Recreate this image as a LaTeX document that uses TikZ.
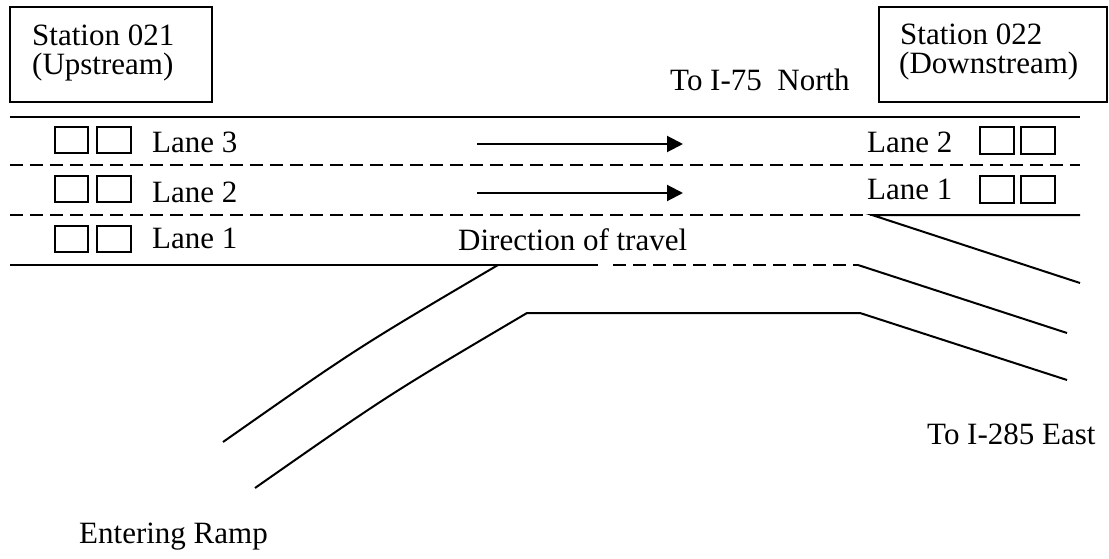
\documentclass[tikz,border=0pt]{standalone}
\usepackage{fontspec}
\setmainfont{Liberation Serif}
\usetikzlibrary{arrows.meta}
\tikzset{
  road/.style={line width=2pt},
  laneline/.style={line width=2pt, dash pattern=on 13pt off 7pt},
  stationbox/.style={draw, line width=2.5pt},
  detector/.style={draw, line width=2pt},
  label/.style={inner sep=0pt, anchor=base west, font=\fontsize{31}{28.5}\selectfont},
  travel/.style={line width=2pt, -{Triangle[length=16pt,width=16pt]}}
}
\begin{document}
\begin{tikzpicture}[x=1pt,y=-1pt]
\useasboundingbox (0,0) rectangle (1109,559);
% station boxes
\draw[stationbox] (10,7) rectangle (212,102);
\draw[stationbox] (879,7) rectangle (1107,102);
\node[label] (s21a) at (32,46) {Station 021};
\node[label] (s21b) at (32,75) {(Upstream)};
\node[label] (s22a) at (900,45) {Station 022};
\node[label] (s22b) at (899,74) {(Downstream)};
\node[label] (north) at (670,91) {To I-75~~North};
% lane lines
\coordinate (t0) at (10,117); \coordinate (t1) at (1080,117);
\draw[road] (t0) -- (t1);
\coordinate (d10) at (10,165); \coordinate (d11) at (1080,165);
\draw[laneline] (d10) -- (d11);
\coordinate (d20) at (10,215); \coordinate (d21) at (872,215);
\coordinate (d22) at (1080,215); \coordinate (d23) at (1080,283);
\draw[laneline] (d20) -- (d21);
\draw[road] (d22) -- (d21) -- (d23);
\coordinate (b0) at (10,265); \coordinate (b1) at (598,265);
\coordinate (b2) at (613,265); \coordinate (b3) at (858,265);
\coordinate (b4) at (1067,333);
\draw[road] (b0) -- (b1);
\draw[laneline] (b2) -- (b3);
\draw[road] (b3) -- (b4);
% ramp
\coordinate (r0) at (498,265); \coordinate (r1) at (223,442);
\draw[road] (r0) .. controls (357,348) .. (r1);
\coordinate (q0) at (255,488); \coordinate (q1) at (527,313);
\coordinate (q2) at (860,313); \coordinate (q3) at (1067,380);
\draw[road] (q0) .. controls (388,395) .. (q1) -- (q2) -- (q3);
% detectors left
\foreach \y in {127,176,226}{
  \draw[detector] (55,\y) rectangle (88,\y+26);
  \draw[detector] (97,\y) rectangle (131,\y+26);
}
% detectors right
\foreach \y in {127,176}{
  \draw[detector] (980,\y) rectangle (1014,\y+27);
  \draw[detector] (1021,\y) rectangle (1055,\y+27);
}
\node[label] (l3) at (152,153) {Lane 3};
\node[label] (l2) at (152,202) {Lane 2};
\node[label] (l1) at (152,248) {Lane 1};
\node[label] (rl2) at (867,153) {Lane 2};
\node[label] (rl1) at (867,200) {Lane 1};
% arrows
\coordinate (a0) at (477,144); \coordinate (a1) at (683,144);
\coordinate (c0) at (477,193); \coordinate (c1) at (683,193);
\draw[travel] (a0) -- (a1);
\draw[travel] (c0) -- (c1);
\node[label] (dir) at (458,250) {Direction of travel};
\node[label] (east) at (927,444) {To I-285 East};
\node[label] (ramp) at (79,543) {Entering Ramp};
\end{tikzpicture}
\end{document}
